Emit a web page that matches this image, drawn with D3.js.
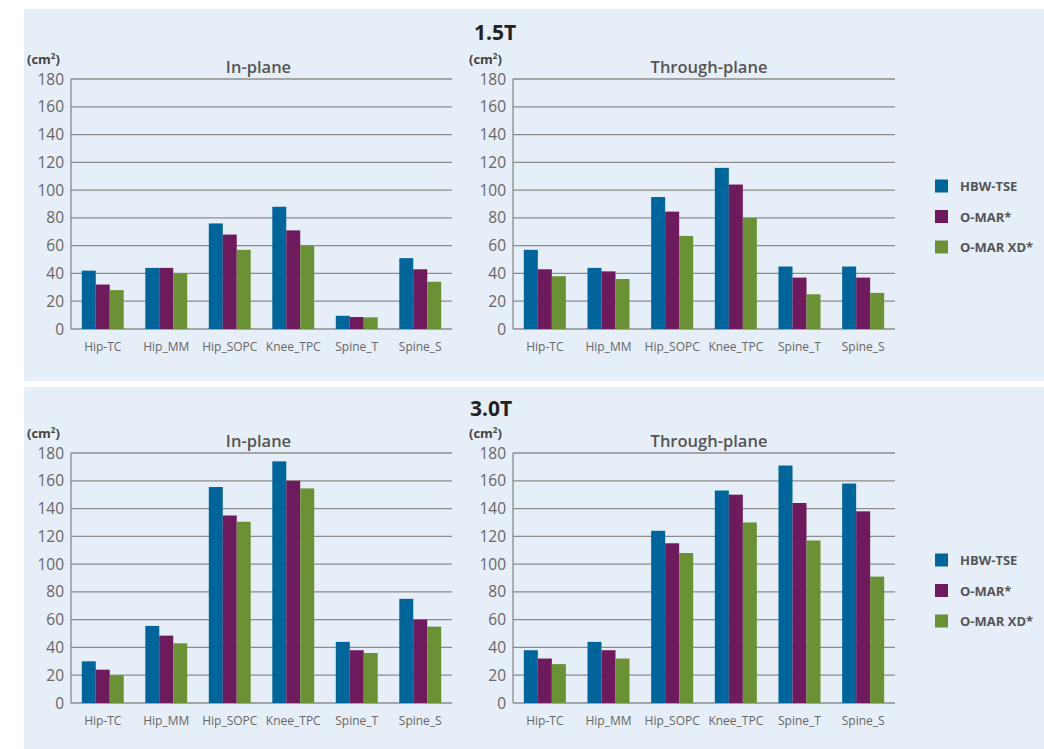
<!DOCTYPE html>
<html>
<head>
<meta charset="utf-8">
<script src="https://cdn.jsdelivr.net/npm/d3@7"></script>
<style>
  body { margin: 0; background: #fff; }
  svg { display: block; font-family: "Open Sans", "Noto Sans", sans-serif; }
</style>
</head>
<body>
<svg id="canvas" width="1044" height="749"></svg>
<script>
const categories = ["Hip-TC", "Hip_MM", "Hip_SOPC", "Knee_TPC", "Spine_T", "Spine_S"];
const seriesNames = ["HBW-TSE", "O-MAR*", "O-MAR XD*"];
const seriesColors = ["#00659b", "#6f1a5c", "#6a9234"];
const yTicks = [0, 20, 40, 60, 80, 100, 120, 140, 160, 180];

// 1.5T
const inPlane15 = [
  [42, 44, 76, 88, 9.5, 51],
  [32, 44, 68, 71, 8.6, 43],
  [28, 40, 57, 60, 8.4, 34]
];
const throughPlane15 = [
  [57, 44, 95, 116, 45, 45],
  [43, 41.5, 84.5, 104, 37, 37],
  [38, 36, 67, 80, 25, 26]
];
// 3.0T
const inPlane30 = [
  [30, 55.5, 155.5, 174, 44, 75],
  [24, 48.5, 135, 160, 38, 60],
  [20, 43, 130.5, 154.5, 36, 55]
];
const throughPlane30 = [
  [38, 44, 124, 153, 171, 158],
  [32, 38, 115, 150, 144, 138],
  [28, 32, 108, 130, 117, 91]
];

const svg = d3.select("#canvas");

// panels
const panels = [
  { y: 9, h: 372, title: "1.5T", titleX: 495, titleY: 40, charts: [inPlane15, throughPlane15], top: 79, bottom: 329 },
  { y: 387, h: 362, title: "3.0T", titleX: 491, titleY: 416, charts: [inPlane30, throughPlane30], top: 453, bottom: 703 }
];
const chartX = [[71, 452, "In-plane", 27], [513, 895, "Through-plane", 469]];

panels.forEach((p) => {
  svg.append("rect")
    .attr("x", 24).attr("y", p.y)
    .attr("width", 1044 - 24).attr("height", p.h)
    .attr("fill", "#e6eef7");

  svg.append("text")
    .attr("x", p.titleX).attr("y", p.titleY)
    .attr("text-anchor", "middle")
    .attr("font-size", 21).attr("font-weight", "bold")
    .attr("fill", "#222")
    .text(p.title);

  p.charts.forEach((data, ci) => {
    const [x0, x1, name, unitX] = chartX[ci];

    const x = d3.scaleBand().domain(categories).range([x0, x1]).paddingInner(0.34).paddingOuter(0.17);
    const y = d3.scaleLinear().domain([0, 180]).range([p.bottom, p.top]);
    const xs = d3.scaleBand().domain(d3.range(3)).range([0, x.bandwidth()]);

    const g = svg.append("g");

    // grid
    g.selectAll("line.grid")
      .data(yTicks)
      .enter()
      .append("line")
      .attr("x1", x0).attr("x2", x1)
      .attr("y1", (d) => y(d)).attr("y2", (d) => y(d))
      .attr("stroke", "#8c8c8c").attr("stroke-width", 1.3);

    g.append("line")
      .attr("x1", x0).attr("x2", x0)
      .attr("y1", y(180)).attr("y2", y(0))
      .attr("stroke", "#8c8c8c").attr("stroke-width", 1.3);

    // y tick labels
    g.selectAll("text.ytick")
      .data(yTicks)
      .enter()
      .append("text")
      .attr("x", x0 - 7)
      .attr("y", (d) => y(d) + 5.5)
      .attr("text-anchor", "end")
      .attr("font-size", 15.5)
      .attr("fill", "#666")
      .text((d) => d);

    // bars
    data.forEach((vals, si) => {
      g.selectAll("rect.s" + si)
        .data(vals)
        .enter()
        .append("rect")
        .attr("x", (d, i) => x(categories[i]) + xs(si))
        .attr("y", (d) => y(d))
        .attr("width", xs.bandwidth())
        .attr("height", (d) => y(0) - y(d))
        .attr("fill", seriesColors[si]);
    });

    // category labels
    g.selectAll("text.cat")
      .data(categories)
      .enter()
      .append("text")
      .attr("x", (d) => x(d) + x.bandwidth() / 2)
      .attr("y", p.bottom + 22)
      .attr("text-anchor", "middle")
      .attr("font-size", 12)
      .attr("fill", "#666")
      .text((d) => d);

    // chart title
    g.append("text")
      .attr("x", (x0 + x1) / 2 + (ci == 0 ? -3 : 5))
      .attr("y", p.top - 6)
      .attr("text-anchor", "middle")
      .attr("font-size", 16.5).attr("font-weight", 600)
      .attr("fill", "#555")
      .text(name);

    // unit
    const u = g.append("text")
      .attr("x", unitX)
      .attr("y", p.top - 15)
      .attr("font-size", 13).attr("font-weight", "bold")
      .attr("fill", "#444");
    u.append("tspan").text("(cm");
    u.append("tspan").attr("font-size", 8).attr("dy", -5).text("2");
    u.append("tspan").attr("dy", 5).text(")");
  });

  // legend
  const legTop = p.top + 107;
  const leg = svg.append("g").selectAll("g")
    .data(seriesNames)
    .enter()
    .append("g")
    .attr("transform", (d, i) => "translate(935," + (legTop + i * 30.5) + ")");
  leg.append("rect")
    .attr("width", 13).attr("height", 13)
    .attr("y", -6.5)
    .attr("fill", (d, i) => seriesColors[i]);
  leg.append("text")
    .attr("x", 25).attr("y", 5)
    .attr("font-size", 13).attr("font-weight", "bold")
    .attr("fill", "#555")
    .text((d) => d);
});
</script>
</body>
</html>
